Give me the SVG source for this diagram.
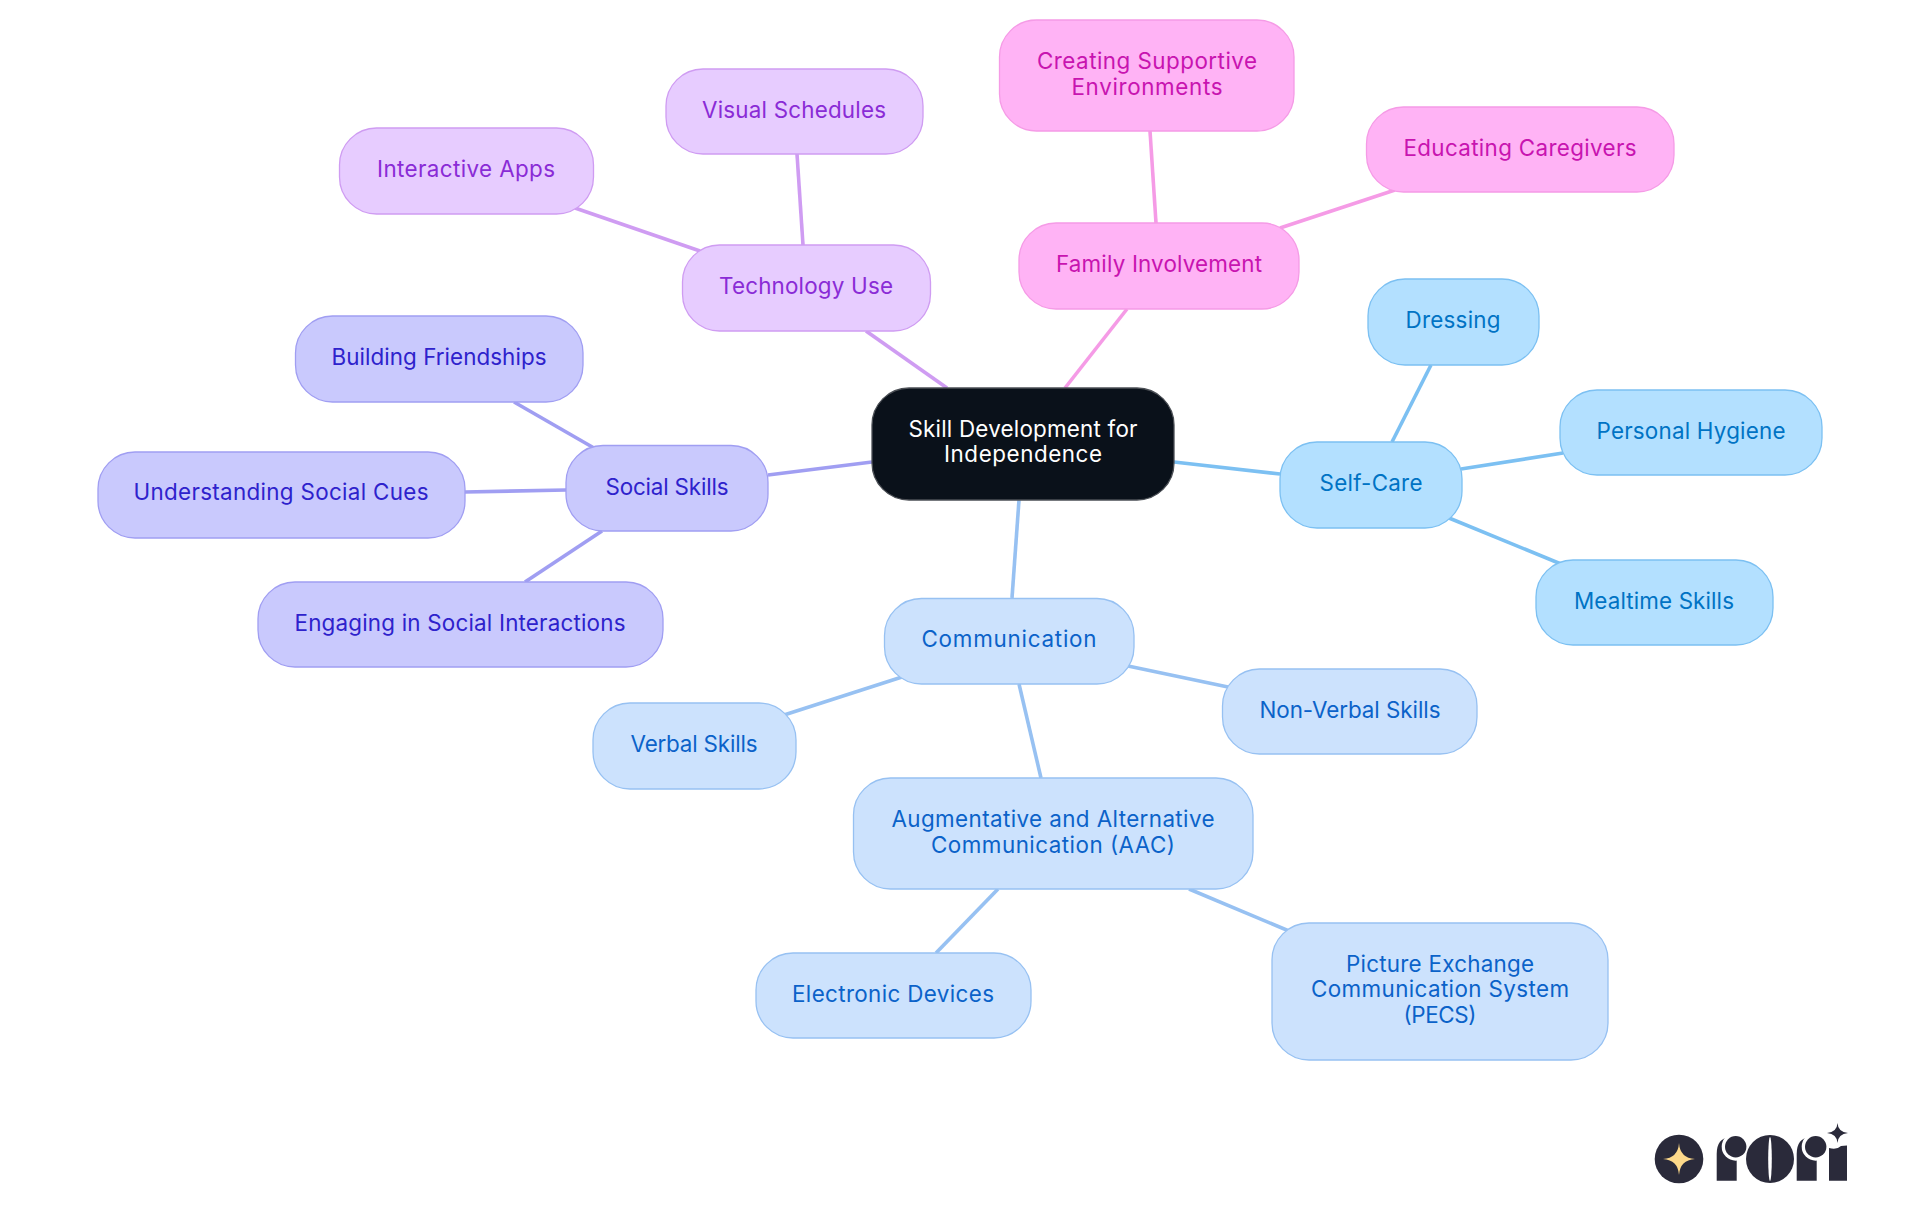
<svg xmlns="http://www.w3.org/2000/svg" width="1920" height="1215" viewBox="0 0 1920 1215">
<style>
text{font-family:"Inter","Noto Sans","Liberation Sans",sans-serif;font-size:22.4px;font-weight:400;text-anchor:middle;dominant-baseline:central}
.n{stroke-width:1.3}
.c line{stroke-width:3.6;stroke-linecap:butt}
.root rect{fill:#0a111a;stroke:#4b4f55}.root text{fill:#fff}
.care rect{fill:#b3e0ff;stroke:#7cc0f2}.care text{fill:#0073c4}
.comm rect{fill:#cce2fd;stroke:#97c1f2}.comm text{fill:#0b62c9}
.soc rect{fill:#c9c9fd;stroke:#a09ef2}.soc text{fill:#2e22cc}
.tech rect{fill:#e7ccff;stroke:#cf9cf2}.tech text{fill:#8a2bd6}
.fam rect{fill:#ffb3f5;stroke:#f59be6}.fam text{fill:#c814b0}
.l{fill:#2a2a3a}
</style>
<g id="connectors" class="c">
<g stroke="#7cc0f2"><line x1="1174" y1="462" x2="1280" y2="474"/><line x1="1392" y1="442" x2="1431" y2="365"/><line x1="1461" y1="469" x2="1563" y2="453"/><line x1="1449" y1="518" x2="1561" y2="564"/></g>
<g stroke="#97c1f2"><line x1="1019" y1="500" x2="1012" y2="598"/><line x1="1128" y1="666" x2="1228" y2="687"/><line x1="902" y1="677" x2="784" y2="715"/><line x1="1019" y1="684" x2="1041" y2="778"/><line x1="998" y1="889" x2="936" y2="953"/><line x1="1189" y1="889" x2="1289" y2="931"/></g>
<g stroke="#a09ef2"><line x1="872" y1="462" x2="768" y2="475"/><line x1="594" y1="448" x2="514" y2="402"/><line x1="566" y1="490" x2="465" y2="492"/><line x1="602" y1="531" x2="525" y2="582"/></g>
<g stroke="#cf9cf2"><line x1="947" y1="388" x2="866" y2="331"/><line x1="700" y1="251" x2="575" y2="208"/><line x1="803" y1="245" x2="797" y2="154"/></g>
<g stroke="#f59be6"><line x1="1065" y1="388" x2="1127" y2="309"/><line x1="1156" y1="223" x2="1150" y2="131"/><line x1="1280" y1="228" x2="1395" y2="190"/></g>
</g>
<g id="root" class="root"><rect class="n" x="872" y="388" width="302" height="112" rx="37"/><text x="1023" y="428" textLength="229">Skill Development for</text><text x="1023" y="453.500" textLength="158">Independence</text></g>
<g id="self-care" class="care"><rect class="n" x="1280" y="442" width="182" height="86" rx="37"/><text x="1371" y="482" textLength="103">Self-Care</text></g>
<g id="dressing" class="care"><rect class="n" x="1368" y="279" width="171" height="86" rx="37"/><text x="1453" y="319" textLength="95">Dressing</text></g>
<g id="hygiene" class="care"><rect class="n" x="1560" y="390" width="262" height="85" rx="37"/><text x="1691" y="430" textLength="189">Personal Hygiene</text></g>
<g id="mealtime" class="care"><rect class="n" x="1536" y="560" width="237" height="85" rx="37"/><text x="1654" y="600" textLength="160">Mealtime Skills</text></g>
<g id="communication" class="comm"><rect class="n" x="884.500" y="598.500" width="249.500" height="85.500" rx="37"/><text x="1009" y="638" textLength="175">Communication</text></g>
<g id="non-verbal" class="comm"><rect class="n" x="1222.500" y="669" width="254.500" height="85" rx="37"/><text x="1350" y="709" textLength="181">Non-Verbal Skills</text></g>
<g id="verbal" class="comm"><rect class="n" x="593" y="703" width="203" height="86" rx="37"/><text x="694" y="743" textLength="127">Verbal Skills</text></g>
<g id="aac" class="comm"><rect class="n" x="853.500" y="778" width="399.500" height="111" rx="37"/><text x="1053" y="818" textLength="323">Augmentative and Alternative</text><text x="1053" y="844" textLength="244">Communication (AAC)</text></g>
<g id="electronic" class="comm"><rect class="n" x="756" y="953" width="275" height="85" rx="37"/><text x="893" y="993" textLength="202">Electronic Devices</text></g>
<g id="pecs" class="comm"><rect class="n" x="1272" y="923" width="336" height="137" rx="37"/><text x="1440" y="963" textLength="188">Picture Exchange</text><text x="1440" y="988.500" textLength="258">Communication System</text><text x="1440" y="1014" textLength="73">(PECS)</text></g>
<g id="social" class="soc"><rect class="n" x="566" y="445.500" width="202" height="85.500" rx="37"/><text x="667" y="486" textLength="123">Social Skills</text></g>
<g id="friendships" class="soc"><rect class="n" x="295.500" y="316" width="287.500" height="86" rx="37"/><text x="439" y="356" textLength="215">Building Friendships</text></g>
<g id="cues" class="soc"><rect class="n" x="98" y="452" width="367" height="86" rx="37"/><text x="281" y="491.500" textLength="295">Understanding Social Cues</text></g>
<g id="interactions" class="soc"><rect class="n" x="258" y="582" width="405" height="85" rx="37"/><text x="460" y="622" textLength="331">Engaging in Social Interactions</text></g>
<g id="technology" class="tech"><rect class="n" x="682.500" y="245" width="248" height="86" rx="37"/><text x="806" y="285" textLength="174">Technology Use</text></g>
<g id="apps" class="tech"><rect class="n" x="339.500" y="128" width="254" height="86" rx="37"/><text x="466" y="168" textLength="178">Interactive Apps</text></g>
<g id="schedules" class="tech"><rect class="n" x="666" y="69" width="257" height="85" rx="37"/><text x="794" y="109" textLength="184">Visual Schedules</text></g>
<g id="family" class="fam"><rect class="n" x="1019" y="223" width="280" height="86" rx="37"/><text x="1159" y="263" textLength="206">Family Involvement</text></g>
<g id="environments" class="fam"><rect class="n" x="999.500" y="20" width="294.500" height="111" rx="37"/><text x="1147" y="60" textLength="220">Creating Supportive</text><text x="1147" y="86" textLength="151">Environments</text></g>
<g id="caregivers" class="fam"><rect class="n" x="1366.500" y="107" width="307.500" height="85" rx="37"/><text x="1520" y="147" textLength="233">Educating Caregivers</text></g>
<g id="logo" transform="translate(0 -1)">
<circle class="l" cx="1679" cy="1160" r="24.300"/>
<path fill="#fdd98a" d="M1679 1144Q1680 1159 1695 1160Q1680 1161 1679 1176Q1678 1161 1663 1160Q1678 1159 1679 1144Z"/>
<path class="l" d="M1716.700 1181.700V1155Q1716.700 1139 1730 1138.300H1736.700V1181.700Z"/><circle cx="1735.700" cy="1147.700" r="14" fill="#fff"/><circle class="l" cx="1735.700" cy="1147.700" r="10.700"/>
<circle class="l" cx="1770" cy="1160" r="24"/><ellipse cx="1770" cy="1160" rx="1.800" ry="22" fill="#fff"/>
<path class="l" d="M1796.700 1181.700V1155Q1796.700 1139 1810 1138.300H1816.700V1181.700Z"/><circle cx="1815.700" cy="1147.700" r="14" fill="#fff"/><circle class="l" cx="1815.700" cy="1147.700" r="10.700"/>
<path class="l" d="M1829 1149Q1837 1151 1841 1147L1847 1146.500V1181.700H1829Z"/>
<path class="l" d="M1837.500 1124Q1838 1133 1848 1134Q1838 1135 1837.500 1144Q1837 1135 1827 1134Q1837 1133 1837.500 1124Z"/>
</g>
</svg>
